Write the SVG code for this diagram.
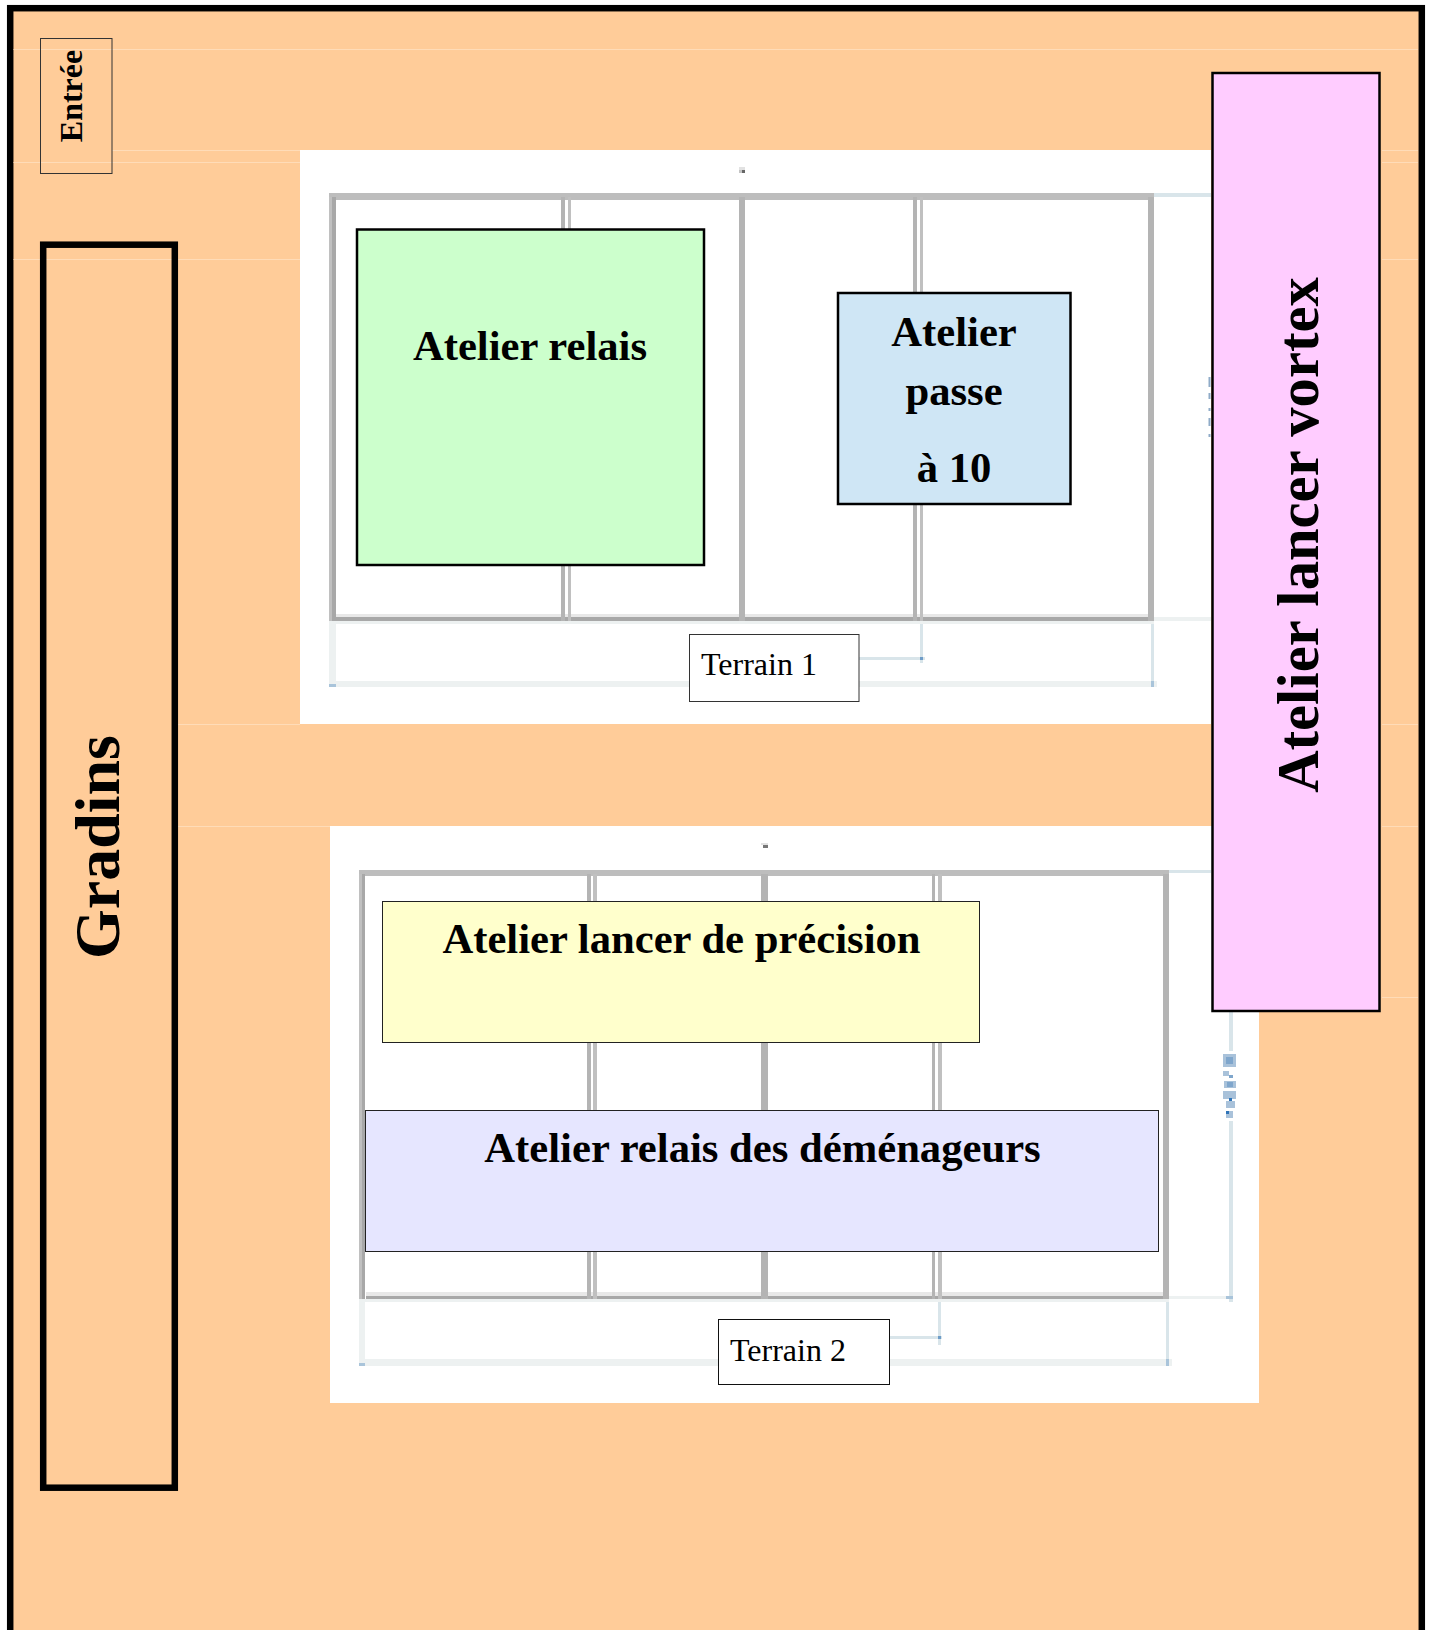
<svg xmlns="http://www.w3.org/2000/svg" width="1433" height="1630" viewBox="0 0 1433 1630">
<style>
text{font-family:"Liberation Serif","Times New Roman",serif;fill:#000}
.b{font-weight:bold;text-anchor:middle}
.m{font-size:42.67px}
.t{font-size:32px}
.faint{stroke:#ffdcb8;stroke-width:1;fill:none}
.g{fill:#bdbdbd}
.gd{fill:#b4b4b4}
.gs{fill:#c0c0c0}
.gb{fill:#a8a8a8}
.gl{fill:#e8e8e8}
.p{fill:#edf1f1}
.d{fill:#d9e5ea}
.c{fill:#a9c4da}
.dot{fill:#6e9cc8}
.dim{fill:#a9c2da}
.dimm{fill:#7fa6cc}
.dimd{fill:#2f74b8}
</style>
<rect width="1433" height="1630" fill="#fff"/>
<g id="hall">
<rect x="10.2" y="8.2" width="1411.6" height="1640" fill="#ffcc99" stroke="#000" stroke-width="6.5"/>
<path class="faint" d="M13.5 49.5H1418M112 150.5H300M13.5 162.5H300M13.5 259.5H300M1382 150.5H1418M1382 162.5H1418M1382 259.5H1418M178 724.5H300M178 826.5H331M1382 724.5H1418M1382 826.5H1418M1382 997.5H1418"/>
</g>
<g id="terrain-1-plan">
<rect x="300" y="150" width="911" height="574" fill="#fff"/>
<rect class="g" x="329" y="193" width="825" height="7"/>
<rect class="gl" x="336" y="614" width="812" height="3"/>
<rect class="p" x="329" y="621" width="825" height="3"/>
<rect class="gb" x="336" y="617" width="812" height="4"/>
<rect class="gs" x="329" y="197" width="3" height="424"/><rect class="gb" x="332" y="197" width="4" height="424"/>
<rect class="gd" x="1148" y="197" width="6" height="424"/>
<rect class="gd" x="561" y="197" width="4" height="424"/><rect class="gs" x="568" y="197" width="3" height="424"/>
<rect class="gd" x="739" y="197" width="6" height="424"/>
<rect class="gd" x="913" y="197" width="4" height="424"/><rect class="gs" x="920" y="197" width="3" height="424"/>
<rect x="739" y="167" width="6" height="3" fill="#e2e2e2"/><rect x="742" y="170" width="3" height="3" fill="#666"/><rect x="739" y="170" width="3" height="3" fill="#c4c4c4"/>
</g>
<g id="terrain-2-plan">
<rect x="330" y="826" width="929" height="577" fill="#fff"/>
<rect class="g" x="359" y="870" width="810" height="6"/>
<rect class="gl" x="366" y="1292" width="797" height="4"/>
<rect class="p" x="359" y="1299" width="810" height="3"/>
<rect class="gb" x="366" y="1296" width="797" height="3"/>
<rect class="gs" x="359" y="874" width="3" height="425"/><rect class="gb" x="362" y="874" width="3" height="425"/>
<rect class="gd" x="1163" y="874" width="6" height="425"/>
<rect class="gd" x="587" y="874" width="4" height="425"/><rect class="gs" x="593" y="874" width="4" height="425"/>
<rect class="gd" x="761" y="874" width="7" height="425"/>
<rect class="gd" x="932" y="874" width="3" height="425"/><rect class="gs" x="938" y="874" width="4" height="425"/>
<rect x="761" y="843" width="7" height="2" fill="#e2e2e2"/><rect x="763" y="845" width="5" height="3" fill="#777"/>
</g>
<g id="connectors">
<rect class="d" x="1154" y="193" width="57" height="4"/>
<rect class="p" x="1154" y="617" width="57" height="4"/>
<rect class="p" x="329" y="624" width="7" height="63"/>
<rect class="p" x="329" y="681" width="828" height="6"/>
<rect class="d" x="1151" y="624" width="3" height="57"/>
<rect class="c" x="1151" y="681" width="3" height="6"/>
<rect class="c" x="329" y="684" width="7" height="3"/>
<rect class="d" x="920" y="624" width="3" height="39"/>
<rect class="d" x="859" y="657" width="66" height="3"/>
<rect class="dot" x="920" y="657" width="3" height="3"/>
<path d="M1209.5 377v10M1209.5 393v6M1209.5 408v3M1209.5 418v8M1209.5 434v3" stroke="#8fabc8" stroke-width="2" fill="none"/>
<rect class="d" x="1169" y="870" width="42" height="3"/>
<rect class="p" x="1169" y="1296" width="64" height="3"/>
<rect class="p" x="359" y="1302" width="6" height="64"/>
<rect class="p" x="359" y="1359" width="813" height="7"/>
<rect class="d" x="1166" y="1302" width="3" height="57"/>
<rect class="c" x="1166" y="1359" width="3" height="7"/>
<rect class="c" x="359" y="1363" width="6" height="3"/>
<rect class="d" x="938" y="1302" width="3" height="43"/>
<rect class="d" x="890" y="1336" width="52" height="3"/>
<rect class="dot" x="938" y="1336" width="3" height="3"/>
<rect class="d" x="1229" y="1012" width="4" height="39"/>
<rect class="d" x="1229" y="1121" width="4" height="181"/>
<rect class="c" x="1226" y="1296" width="7" height="3"/>
<rect class="dim" x="1223" y="1054" width="13" height="13"/><rect class="dimm" x="1226" y="1057" width="7" height="7"/>
<rect class="dim" x="1223" y="1071" width="6" height="5"/><rect class="dimm" x="1229" y="1075" width="4" height="3"/>
<rect class="dim" x="1224" y="1081" width="12" height="7"/><rect class="dimm" x="1227" y="1082" width="6" height="5"/>
<rect class="dim" x="1223" y="1091" width="13" height="8"/><rect class="dimd" x="1229" y="1098" width="3" height="3"/>
<rect class="dim" x="1226" y="1101" width="9" height="7"/>
<rect class="dim" x="1226" y="1111" width="7" height="7"/><rect class="dimd" x="1226" y="1111" width="3" height="3"/>
</g>
<g id="entree">
<rect x="40.5" y="38.5" width="71.5" height="135" fill="none" stroke="#333" stroke-width="1"/>
<text class="b" transform="translate(81.5 96) rotate(-90)" style="font-size:32px">Entrée</text>
</g>
<g id="gradins">
<rect x="43.2" y="244.7" width="131.6" height="1243" fill="none" stroke="#000" stroke-width="6.5"/>
<text class="b" transform="translate(119 847) rotate(-90)" style="font-size:64px">Gradins</text>
</g>
<g id="atelier-relais">
<rect x="357" y="229.5" width="347" height="335.5" fill="#ccffcc" stroke="#000" stroke-width="2.5"/>
<text class="b m" x="530" y="360">Atelier relais</text>
</g>
<g id="atelier-passe">
<rect x="838" y="293" width="232.5" height="211" fill="#cfe6f5" stroke="#000" stroke-width="2.5"/>
<text class="b m" x="954" y="346">Atelier</text>
<text class="b m" x="954" y="405">passe</text>
<text class="b m" x="954" y="482">à 10</text>
</g>
<g id="terrain-1">
<rect x="689.5" y="634.5" width="169.5" height="67" fill="#fff" stroke="#333" stroke-width="1"/>
<text class="t" x="701" y="675">Terrain 1</text>
</g>
<g id="atelier-lancer-precision">
<rect x="382.5" y="901.5" width="597" height="141" fill="#ffffcc" stroke="#222" stroke-width="1"/>
<text class="b m" x="681.5" y="953">Atelier lancer de précision</text>
</g>
<g id="atelier-demenageurs">
<rect x="365.5" y="1110.5" width="793" height="141" fill="#e6e6ff" stroke="#222" stroke-width="1"/>
<text class="b m" x="762.5" y="1162">Atelier relais des déménageurs</text>
</g>
<g id="terrain-2">
<rect x="718.5" y="1319.5" width="171" height="65" fill="#fff" stroke="#111" stroke-width="1"/>
<text class="t" x="730" y="1361">Terrain 2</text>
</g>
<g id="atelier-vortex">
<rect x="1212.5" y="73" width="167" height="938" fill="#ffccff" stroke="#000" stroke-width="2.5"/>
<text class="b" transform="translate(1318 535) rotate(-90)" style="font-size:58.67px">Atelier lancer vortex</text>
</g>
</svg>
